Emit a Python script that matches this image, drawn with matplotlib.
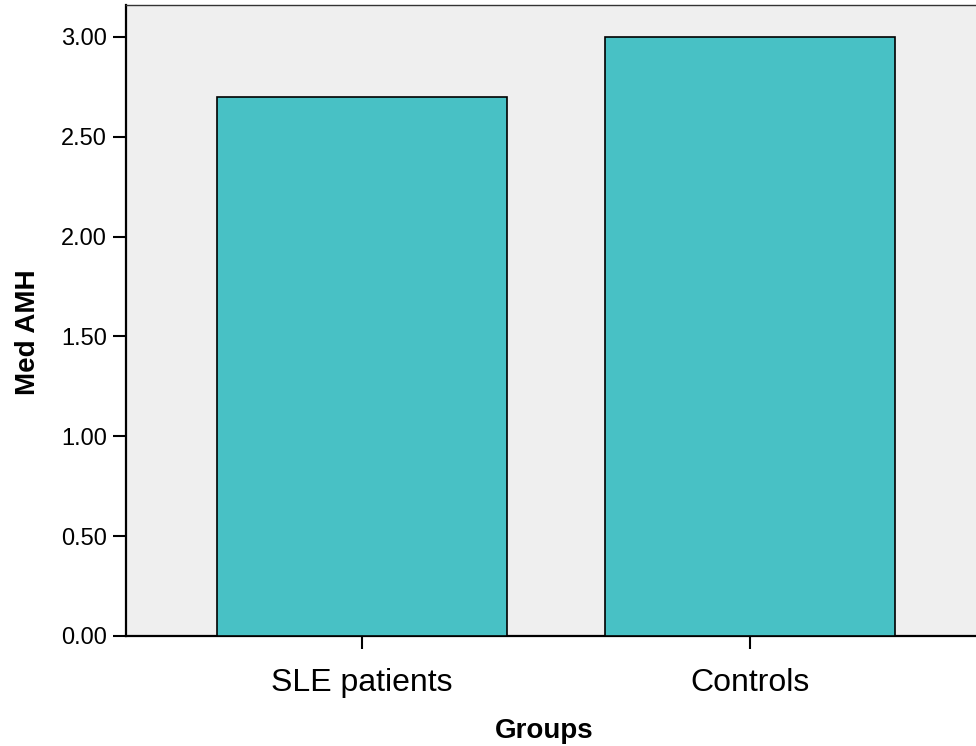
import matplotlib
matplotlib.use("Agg")
import matplotlib.pyplot as plt
import numpy as np

plt.rcParams['font.family'] = ['Liberation Sans', 'DejaVu Sans']

# data
groups = ['SLE patients', 'Controls']
med_amh = [2.70, 3.00]
yticks = [0.0, 0.5, 1.0, 1.5, 2.0, 2.5, 3.0]

fig = plt.figure(figsize=(9.76, 7.46), dpi=100)
ax = fig.add_axes([0.129, 0.1475, 0.871, 0.846])
ax.set_facecolor('#efefef')

x = np.arange(len(groups))
ax.bar(x, med_amh, width=0.747, color='#48c1c5', edgecolor='black', linewidth=1.2, zorder=3)

ax.set_xlim(-0.608, 1.582)
ax.set_ylim(0, 3.16)
ax.set_xticks(x)
ax.set_xticklabels(groups, fontsize=23)
ax.set_yticks(yticks)
ax.set_yticklabels(['%.2f' % v for v in yticks], fontsize=17)

ax.tick_params(axis='y', direction='out', length=9.5, width=1.5, pad=4)
ax.tick_params(axis='x', direction='out', length=9, width=1.5, pad=14)

for s in ['left', 'bottom']:
    ax.spines[s].set_linewidth(1.6)
    ax.spines[s].set_color('black')
ax.spines['right'].set_visible(False)
ax.spines['top'].set_linewidth(1.0)
ax.spines['top'].set_color('#333333')

ax.set_xlabel('Groups', fontsize=20, fontweight='bold')
ax.xaxis.set_label_coords(0.492, -0.13)
ax.set_ylabel('Med AMH', fontsize=20, fontweight='bold')
ax.yaxis.set_label_coords(-0.1, 0.482)

fig.savefig('out.png', dpi=100)
